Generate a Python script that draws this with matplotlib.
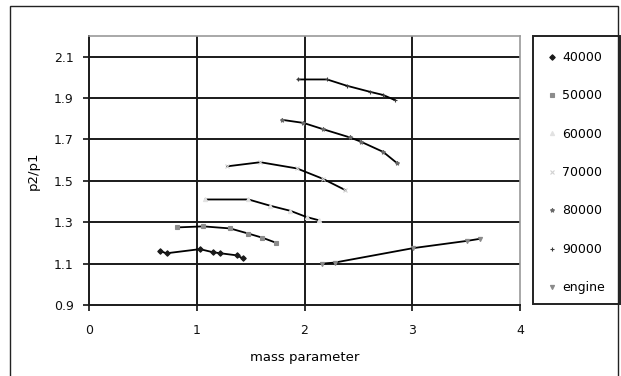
import matplotlib
matplotlib.use("Agg")
import matplotlib.pyplot as plt
from matplotlib.lines import Line2D
from matplotlib.patches import Rectangle

# pressure ratio vs mass parameter, one curve per speed line
x40 = [0.66, 0.72, 1.03, 1.15, 1.22, 1.37, 1.43]
y40 = [1.16, 1.15, 1.17, 1.155, 1.15, 1.14, 1.125]
x50 = [0.82, 1.06, 1.31, 1.48, 1.61, 1.74]
y50 = [1.275, 1.28, 1.27, 1.245, 1.225, 1.20]
x60 = [1.08, 1.48, 1.68, 1.87, 2.02, 2.13]
y60 = [1.41, 1.41, 1.38, 1.355, 1.325, 1.31]
x70 = [1.28, 1.59, 1.93, 2.17, 2.38]
y70 = [1.57, 1.59, 1.56, 1.51, 1.455]
x80 = [1.79, 1.99, 2.17, 2.42, 2.52, 2.73, 2.86]
y80 = [1.795, 1.78, 1.75, 1.71, 1.69, 1.64, 1.585]
x90 = [1.94, 2.21, 2.39, 2.61, 2.73, 2.84]
y90 = [1.99, 1.99, 1.96, 1.93, 1.915, 1.89]
x_engine = [2.16, 2.28, 3.01, 3.51, 3.63]
y_engine = [1.10, 1.105, 1.175, 1.21, 1.22]

labels = ["40000", "50000", "60000", "70000", "80000", "90000", "engine"]
xticks = [0, 1, 2, 3, 4]
yticks = [0.9, 1.1, 1.3, 1.5, 1.7, 1.9, 2.1]

series = [(x40, y40), (x50, y50), (x60, y60), (x70, y70),
          (x80, y80), (x90, y90), (x_engine, y_engine)]
markers = ["D", "s", "^", "x", "*", "+", "v"]
mcolors = ["#1a1a1a", "#8c8c8c", "#e2e2e2", "#d2d2d2", "#6a6a6a", "#3a3a3a", "#8a8a8a"]
msizes = [2.8, 3, 3, 2.5, 3, 3.5, 3]

plt.rcParams["font.family"] = "DejaVu Sans"

W, H = 621, 376
fig = plt.figure(figsize=(W / 100, H / 100), dpi=100)
ax = fig.add_axes([89 / W, 1 - 305 / H, (520 - 89) / W, (305 - 36) / H])

for (xs, ys), m, c, s in zip(series, markers, mcolors, msizes):
    ax.plot(xs, ys, color="black", lw=1.3, zorder=3)
    ax.plot(xs, ys, ls="none", marker=m, color=c, ms=s, mew=0.8, zorder=4)

ax.set_xlim(0, 4)
ax.set_ylim(0.9, 2.2)
ax.set_xticks(xticks)
ax.set_yticks(yticks)
ax.set_xticklabels([str(t) for t in xticks])
ax.set_yticklabels([f"{t:.1f}" for t in yticks])
ax.tick_params(axis="both", direction="out", length=4, width=1.2,
               labelsize=9, colors="#111111")
ax.tick_params(axis="y", pad=7)
ax.tick_params(axis="x", pad=10)

for g in yticks[1:]:
    ax.axhline(g, color="#1a1a1a", lw=1.4, zorder=1)
for g in xticks[1:4]:
    ax.axvline(g, color="#1a1a1a", lw=1.4, zorder=1)

ax.spines["left"].set_color("#1a1a1a")
ax.spines["bottom"].set_color("#1a1a1a")
ax.spines["left"].set_linewidth(1.4)
ax.spines["bottom"].set_linewidth(1.4)
ax.spines["top"].set_color("#9a9a9a")
ax.spines["right"].set_color("#9a9a9a")
ax.spines["top"].set_linewidth(1.2)
ax.spines["right"].set_linewidth(1.2)

ax.set_xlabel("mass parameter", fontsize=9.5, labelpad=10)
ax.set_ylabel("p2/p1", fontsize=9.5, labelpad=10)

# outer chart frame
fig.patches.append(Rectangle((10 / W, -0.05), 608 / W, 1.05 - 6 / H,
                             transform=fig.transFigure, fill=False,
                             ec="#222222", lw=1.0, clip_on=False))

# legend box on the right
fig.patches.append(Rectangle((533 / W, 1 - 304 / H), 87 / W, 268 / H,
                             transform=fig.transFigure, fill=False,
                             ec="#222222", lw=1.4, clip_on=False))
handles = [Line2D([], [], ls="none", marker=m, color=c, ms=s, mew=0.8)
           for m, c, s in zip(markers, mcolors, msizes)]
fig.legend(handles, labels, loc="upper left",
           bbox_to_anchor=(547 / W, 1 - 51 / H), frameon=False,
           fontsize=9, labelspacing=2.03, handlelength=0.8,
           handletextpad=0.4, borderpad=0, borderaxespad=0)

fig.savefig("out.png", dpi=100)
